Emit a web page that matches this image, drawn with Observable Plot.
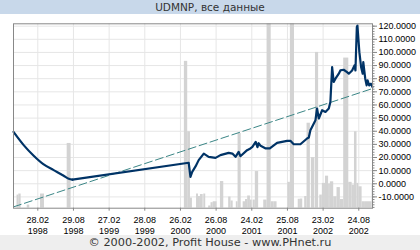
<!DOCTYPE html>
<html>
<head>
<meta charset="utf-8">
<script src="https://cdn.jsdelivr.net/npm/d3@7"></script>
<script src="https://cdn.jsdelivr.net/npm/@observablehq/plot@0.6"></script>
<style>
  html, body { margin: 0; padding: 0; background: #fff; }
  #wrap { width: 420px; height: 250px; overflow: hidden; }
  #title { height: 14px; line-height: 14px; background: #c8d8ea; color: #333; text-align: center;
           font-family: "DejaVu Sans", Verdana, sans-serif; font-size: 10.5px; }
  #footer { height: 15px; line-height: 15px; background: #eeeeee; color: #333; text-align: center;
            font-family: "DejaVu Sans", Verdana, sans-serif; font-size: 11.3px; }
  #chart svg { display: block; }
</style>
</head>
<body>
<div id="wrap">
  <div id="title">UDMNP, все данные</div>
  <div id="chart"></div>
  <div id="footer">© 2000-2002, Profit House - www.PHnet.ru</div>
</div>
<script>
const priceDates = ["1997-10-27","1997-12-18","1998-02-07","1998-03-30","1998-05-20","1998-07-10","1998-08-05","1998-08-24",
  "2000-04-08","2000-04-17","2000-04-26","2000-05-13","2000-05-29","2000-06-24","2000-07-19","2000-08-23","2000-09-17",
  "2000-10-29","2000-11-17","2000-12-03","2000-12-19","2000-12-28","2001-01-31","2001-02-17","2001-02-27","2001-03-16",
  "2001-03-25","2001-03-31","2001-04-10","2001-05-06","2001-05-27","2001-07-03","2001-08-23","2001-09-09","2001-09-26",
  "2001-10-30","2001-12-03","2001-12-12","2001-12-20","2002-01-15","2002-01-23","2002-02-01","2002-02-18","2002-03-07",
  "2002-03-24","2002-04-01","2002-04-10","2002-04-18","2002-04-27","2002-05-14","2002-05-22","2002-06-08","2002-06-25",
  "2002-07-04","2002-07-21","2002-08-02","2002-08-07","2002-08-14","2002-08-17","2002-08-22","2002-08-27","2002-09-05",
  "2002-09-13","2002-09-16","2002-09-21","2002-09-26","2002-10-03","2002-10-08","2002-10-16","2002-10-25","2002-11-02"];
const priceValues = [39.5,29.4,21.3,14.7,10.4,6.1,3.8,3.2,
  16,5.3,9.1,13.2,18,23,20.5,19.7,21.8,
  23.5,23,20.5,24.3,21,25.6,26.9,28.1,31.9,
  27.9,30.9,28.9,26.9,26.9,31.1,32.7,32.7,30.1,
  30.1,34.5,35.2,40.8,48.4,57.3,49.7,56,54.7,
  57.3,62.3,88.8,77.5,80,83.8,86.3,86.8,85,
  83.8,86.3,90.1,86.3,119.2,120.5,110.4,100.2,88.8,
  83.8,92.6,86.3,80,74.9,78.7,74.9,76.2,73.7];

const barStart = ["1997-11-14","1997-11-23","1998-01-05","1998-03-14","1998-07-28","2000-03-17","2000-04-03","2000-04-17",
  "2000-05-18","2000-05-28","2000-06-07","2000-06-24","2000-07-19","2000-07-31","2000-08-11","2000-09-17","2000-10-29",
  "2000-11-10","2000-12-07","2000-12-16","2001-01-11","2001-01-23","2001-02-03","2001-02-17","2001-03-03","2001-03-14",
  "2001-04-26","2001-05-13","2001-06-03","2001-06-16","2001-08-27","2001-09-09","2001-10-19","2001-10-30","2001-11-21",
  "2001-12-03","2001-12-25","2002-01-15","2002-02-06","2002-02-19","2002-03-07","2002-03-23","2002-04-01","2002-04-18",
  "2002-05-05","2002-05-22","2002-06-08","2002-07-04","2002-07-21","2002-08-02","2002-08-15","2002-08-24","2002-09-10",
  "2002-09-27","2002-10-31"];
const barEnd = ["1997-11-23","1997-12-05","1998-01-18","1998-04-03","1998-08-17","2000-04-03","2000-04-17","2000-04-27",
  "2000-05-28","2000-06-07","2000-06-21","2000-07-04","2000-07-31","2000-08-11","2000-08-31","2000-10-04","2000-11-10",
  "2000-11-21","2000-12-16","2001-01-01","2001-01-23","2001-02-03","2001-02-17","2001-02-26","2001-03-14","2001-03-31",
  "2001-05-13","2001-06-03","2001-06-16","2001-07-03","2001-09-09","2001-09-30","2001-10-30","2001-11-11","2001-12-03",
  "2001-12-20","2002-01-12","2002-01-31","2002-02-19","2002-03-07","2002-03-23","2002-04-01","2002-04-18","2002-05-05",
  "2002-05-22","2002-06-08","2002-07-04","2002-07-21","2002-08-02","2002-08-15","2002-08-24","2002-09-10","2002-09-27",
  "2002-10-31","2002-11-02"];
const barTop = [-8.6,-7.8,-16.2,-7.8,30.7,93.2,39.6,-10.9,
  -7.8,-9.7,-8.2,-7.8,-16.9,-14.4,-13.7,1.7,-10.1,
  -13.1,-13.7,38.3,-13.7,-12,-9.3,-12.4,-12.4,9.3,
  -12.4,122,-13.7,-13.7,1.1,122,-11.8,-11.6,-9.7,
  46.1,19.9,100,-8.6,0.3,5.8,-0.2,1.5,-9.9,
  -2.9,-12,95.7,1.1,-1,39.6,0.3,-2.3,-13.7,
  -13.7,-0.5];

const trendDates = ["1997-10-27","2002-11-02"];
const trendValues = [-17.6, 72.5];

const xTickDates = ["1998-02-28","1998-08-29","1999-02-27","1999-08-28","2000-02-26","2000-08-26",
  "2001-02-24","2001-08-25","2002-02-23","2002-08-24"];
const yTickValues = [-10,0,10,20,30,40,50,60,70,80,90,100,110,120];

const xDomain = ["1997-10-27","2002-11-02"];
const yDomain = [-18.6, 121.8];

const price = priceDates.map((d, i) => ({date: new Date(d), value: priceValues[i]}));
const priceEarly = price.slice(0, 8);
const priceLate = price.slice(7);
const bars = barStart.map((d, i) => ({start: new Date(d), end: new Date(barEnd[i]), top: barTop[i]}));
const trend = trendDates.map((d, i) => ({date: new Date(d), value: trendValues[i]}));
const xTicks = xTickDates.map(d => new Date(d));
const minorTicks = d3.range(-18, 122, 2);
const fmt = d3.utcFormat("%d.%m\n%Y");

const chart = Plot.plot({
  width: 420,
  height: 221,
  marginTop: 9.3,
  marginBottom: 27.3,
  marginLeft: 13,
  marginRight: 48,
  style: {fontFamily: "'Liberation Sans', Arial, sans-serif", fontSize: "9px", color: "#000", background: "#fff"},
  x: {type: "utc", domain: xDomain.map(d => new Date(d)), label: null},
  y: {domain: yDomain, label: null},
  marks: [
    Plot.gridY(yTickValues, {stroke: "#e6e6e6", strokeOpacity: 1}),
    Plot.gridX(xTicks, {stroke: "#e6e6e6", strokeOpacity: 1}),
    Plot.rect(bars, {x1: "start", x2: "end", y1: yDomain[0], y2: "top", fill: "#d3d3d3", clip: true}),
    Plot.line(trend, {x: "date", y: "value", stroke: "#3b8686", strokeWidth: 1, strokeDasharray: "8,3.5"}),
    Plot.line(priceEarly, {x: "date", y: "value", stroke: "#003366", strokeWidth: 2.2, curve: "monotone-x"}),
    Plot.line(priceLate, {x: "date", y: "value", stroke: "#003366", strokeWidth: 2.2, strokeLinejoin: "round"}),
    Plot.frame({stroke: "#888"}),
    Plot.axisX(xTicks, {tickSize: 3, tickPadding: 4, tickFormat: fmt, lineHeight: 1.2, stroke: "#888"}),
    Plot.axisY(yTickValues, {anchor: "right", tickSize: 4, tickPadding: 2, tickFormat: d => d.toFixed(4), stroke: "#888"}),
    Plot.axisY(minorTicks, {anchor: "right", tickSize: 1.5, tickFormat: () => "", stroke: "#888"})
  ]
});
document.getElementById("chart").appendChild(chart);
</script>
</body>
</html>
